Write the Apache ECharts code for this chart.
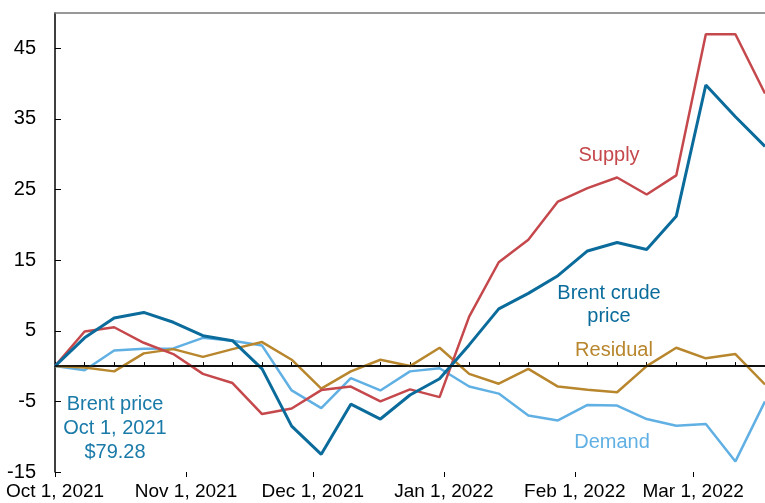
<!DOCTYPE html>
<html>
<head>
<meta charset="utf-8">
<script src="https://cdn.jsdelivr.net/npm/echarts@6/dist/echarts.min.js"></script>
<style>
  html, body { margin: 0; padding: 0; background: #fff; }
  #chart { width: 765px; height: 503px; }
</style>
</head>
<body>
<div id="chart"></div>
<script>
// weekly observations (Fridays), change since Oct 1, 2021
var weeks = [
  '2021-10-01', '2021-10-08', '2021-10-15', '2021-10-22', '2021-10-29',
  '2021-11-05', '2021-11-12', '2021-11-19', '2021-11-26',
  '2021-12-03', '2021-12-10', '2021-12-17', '2021-12-24', '2021-12-31',
  '2022-01-07', '2022-01-14', '2022-01-21', '2022-01-28',
  '2022-02-04', '2022-02-11', '2022-02-18', '2022-02-25',
  '2022-03-04', '2022-03-11', '2022-03-18'
];
var brent = [0, 4.0, 6.8, 7.6, 6.2, 4.3, 3.6, -0.4, -8.5, -12.5, -5.4, -7.5, -4.1, -1.8,
  3.0, 8.1, 10.3, 12.8, 16.3, 17.5, 16.5, 21.2, 39.8, 35.3, 31.1];
var supply = [0, 4.9, 5.5, 3.3, 1.7, -1.1, -2.4, -6.8, -6.0, -3.4, -2.9, -5.0, -3.3, -4.4,
  7.0, 14.7, 17.9, 23.3, 25.2, 26.7, 24.3, 27.0, 47.0, 47.0, 38.6];
var residual = [0, -0.2, -0.75, 1.8, 2.4, 1.3, 2.4, 3.4, 0.9, -3.2, -0.75, 0.9, 0, 2.6,
  -1.1, -2.5, -0.4, -2.9, -3.35, -3.7, 0, 2.6, 1.1, 1.7, -2.6];
var demand = [0, -0.6, 2.2, 2.45, 2.5, 4.0, 3.6, 2.9, -3.45, -5.95, -1.7, -3.45, -0.75, -0.3,
  -2.9, -3.9, -7.0, -7.7, -5.5, -5.6, -7.5, -8.45, -8.2, -13.5, -5.0];

var monthTicks = ['2021-10-01', '2021-11-01', '2021-12-01', '2022-01-01', '2022-02-01', '2022-03-01'];
var monthLabels = ['Oct 1, 2021', 'Nov 1, 2021', 'Dec 1, 2021', 'Jan 1, 2022', 'Feb 1, 2022', 'Mar 1, 2022'];
var yTicks = [-15, -5, 5, 15, 25, 35, 45];

var FONT = 'Arial, "Liberation Sans", sans-serif';

// x axis is days since Oct 1, 2021
function dayNum(s) {
  var p = s.split('-');
  return (Date.UTC(+p[0], +p[1] - 1, +p[2]) - Date.UTC(2021, 9, 1)) / 86400000;
}
var weekX = weeks.map(dayNum);
var monthX = monthTicks.map(dayNum);

function pairs(vals) {
  return vals.map(function (v, i) { return [weekX[i], v]; });
}

var chart = echarts.init(document.getElementById('chart'));

function line(name, vals, color, width) {
  return {
    name: name,
    type: 'line',
    data: pairs(vals),
    symbol: 'none',
    lineStyle: { color: color, width: width },
    itemStyle: { color: color },
    animation: false,
    silent: true
  };
}

var series = [
  line('Demand', demand, '#61b0e4', 2.5),
  line('Residual', residual, '#b8862d', 2.5),
  line('Supply', supply, '#c4484c', 2.5),
  line('Brent crude price', brent, '#0b6c9c', 3)
];
series[0].markLine = {
  silent: true,
  symbol: 'none',
  label: { show: false },
  lineStyle: { color: '#000', width: 1.5, type: 'solid' },
  data: [{ yAxis: 0 }]
};

var xMin = weekX[0], xMax = weekX[weekX.length - 1];

chart.setOption({
  animation: false,
  grid: { left: 55, right: 0, top: 13, bottom: 31, containLabel: false },
  xAxis: [
    {
      type: 'value',
      min: xMin,
      max: xMax,
      position: 'bottom',
      axisLine: { lineStyle: { color: '#000', width: 1.5 } },
      axisTick: { inside: true, length: 4, customValues: weekX, lineStyle: { color: '#000' } },
      axisLabel: { show: false },
      splitLine: { show: false }
    },
    {
      type: 'value',
      min: xMin,
      max: xMax,
      position: 'bottom',
      axisLine: { show: false },
      axisTick: { inside: false, length: 5, customValues: monthX, lineStyle: { color: '#000' } },
      axisLabel: {
        customValues: monthX,
        margin: 10,
        color: '#000',
        fontFamily: FONT,
        fontSize: 19,
        hideOverlap: false,
        formatter: function (v) {
          var i = monthX.indexOf(v);
          return i >= 0 ? monthLabels[i] : '';
        }
      },
      splitLine: { show: false }
    },
    {
      type: 'value',
      min: xMin,
      max: xMax,
      position: 'top',
      axisLine: { lineStyle: { color: '#777', width: 1.5 } },
      axisTick: { show: false },
      axisLabel: { show: false },
      splitLine: { show: false }
    }
  ],
  yAxis: {
    type: 'value',
    min: -15,
    max: 50,
    axisLine: { show: true, lineStyle: { color: '#000', width: 1.5 } },
    axisTick: { show: true, inside: true, length: 6, customValues: yTicks, lineStyle: { color: '#000' } },
    axisLabel: {
      customValues: yTicks,
      color: '#000',
      fontFamily: FONT,
      fontSize: 20,
      margin: 19
    },
    splitLine: { show: false }
  },
  series: series,
  graphic: [
    { type: 'text', silent: true, style: { text: 'Supply', x: 609, y: 155, textAlign: 'center', textVerticalAlign: 'middle', font: '20px ' + FONT, fill: '#c4484c' } },
    { type: 'text', silent: true, style: { text: 'Brent crude\nprice', x: 609, y: 305, lineHeight: 23, textAlign: 'center', textVerticalAlign: 'middle', font: '20px ' + FONT, fill: '#0b6c9c' } },
    { type: 'text', silent: true, style: { text: 'Residual', x: 614, y: 350, textAlign: 'center', textVerticalAlign: 'middle', font: '20px ' + FONT, fill: '#b8862d' } },
    { type: 'text', silent: true, style: { text: 'Demand', x: 612, y: 442, textAlign: 'center', textVerticalAlign: 'middle', font: '20px ' + FONT, fill: '#61b0e4' } },
    { type: 'text', silent: true, style: { text: 'Brent price\nOct 1, 2021\n$79.28', x: 115, y: 428, lineHeight: 24, textAlign: 'center', textVerticalAlign: 'middle', font: '20px ' + FONT, fill: '#1a7aa8' } }
  ]
});
</script>
</body>
</html>
